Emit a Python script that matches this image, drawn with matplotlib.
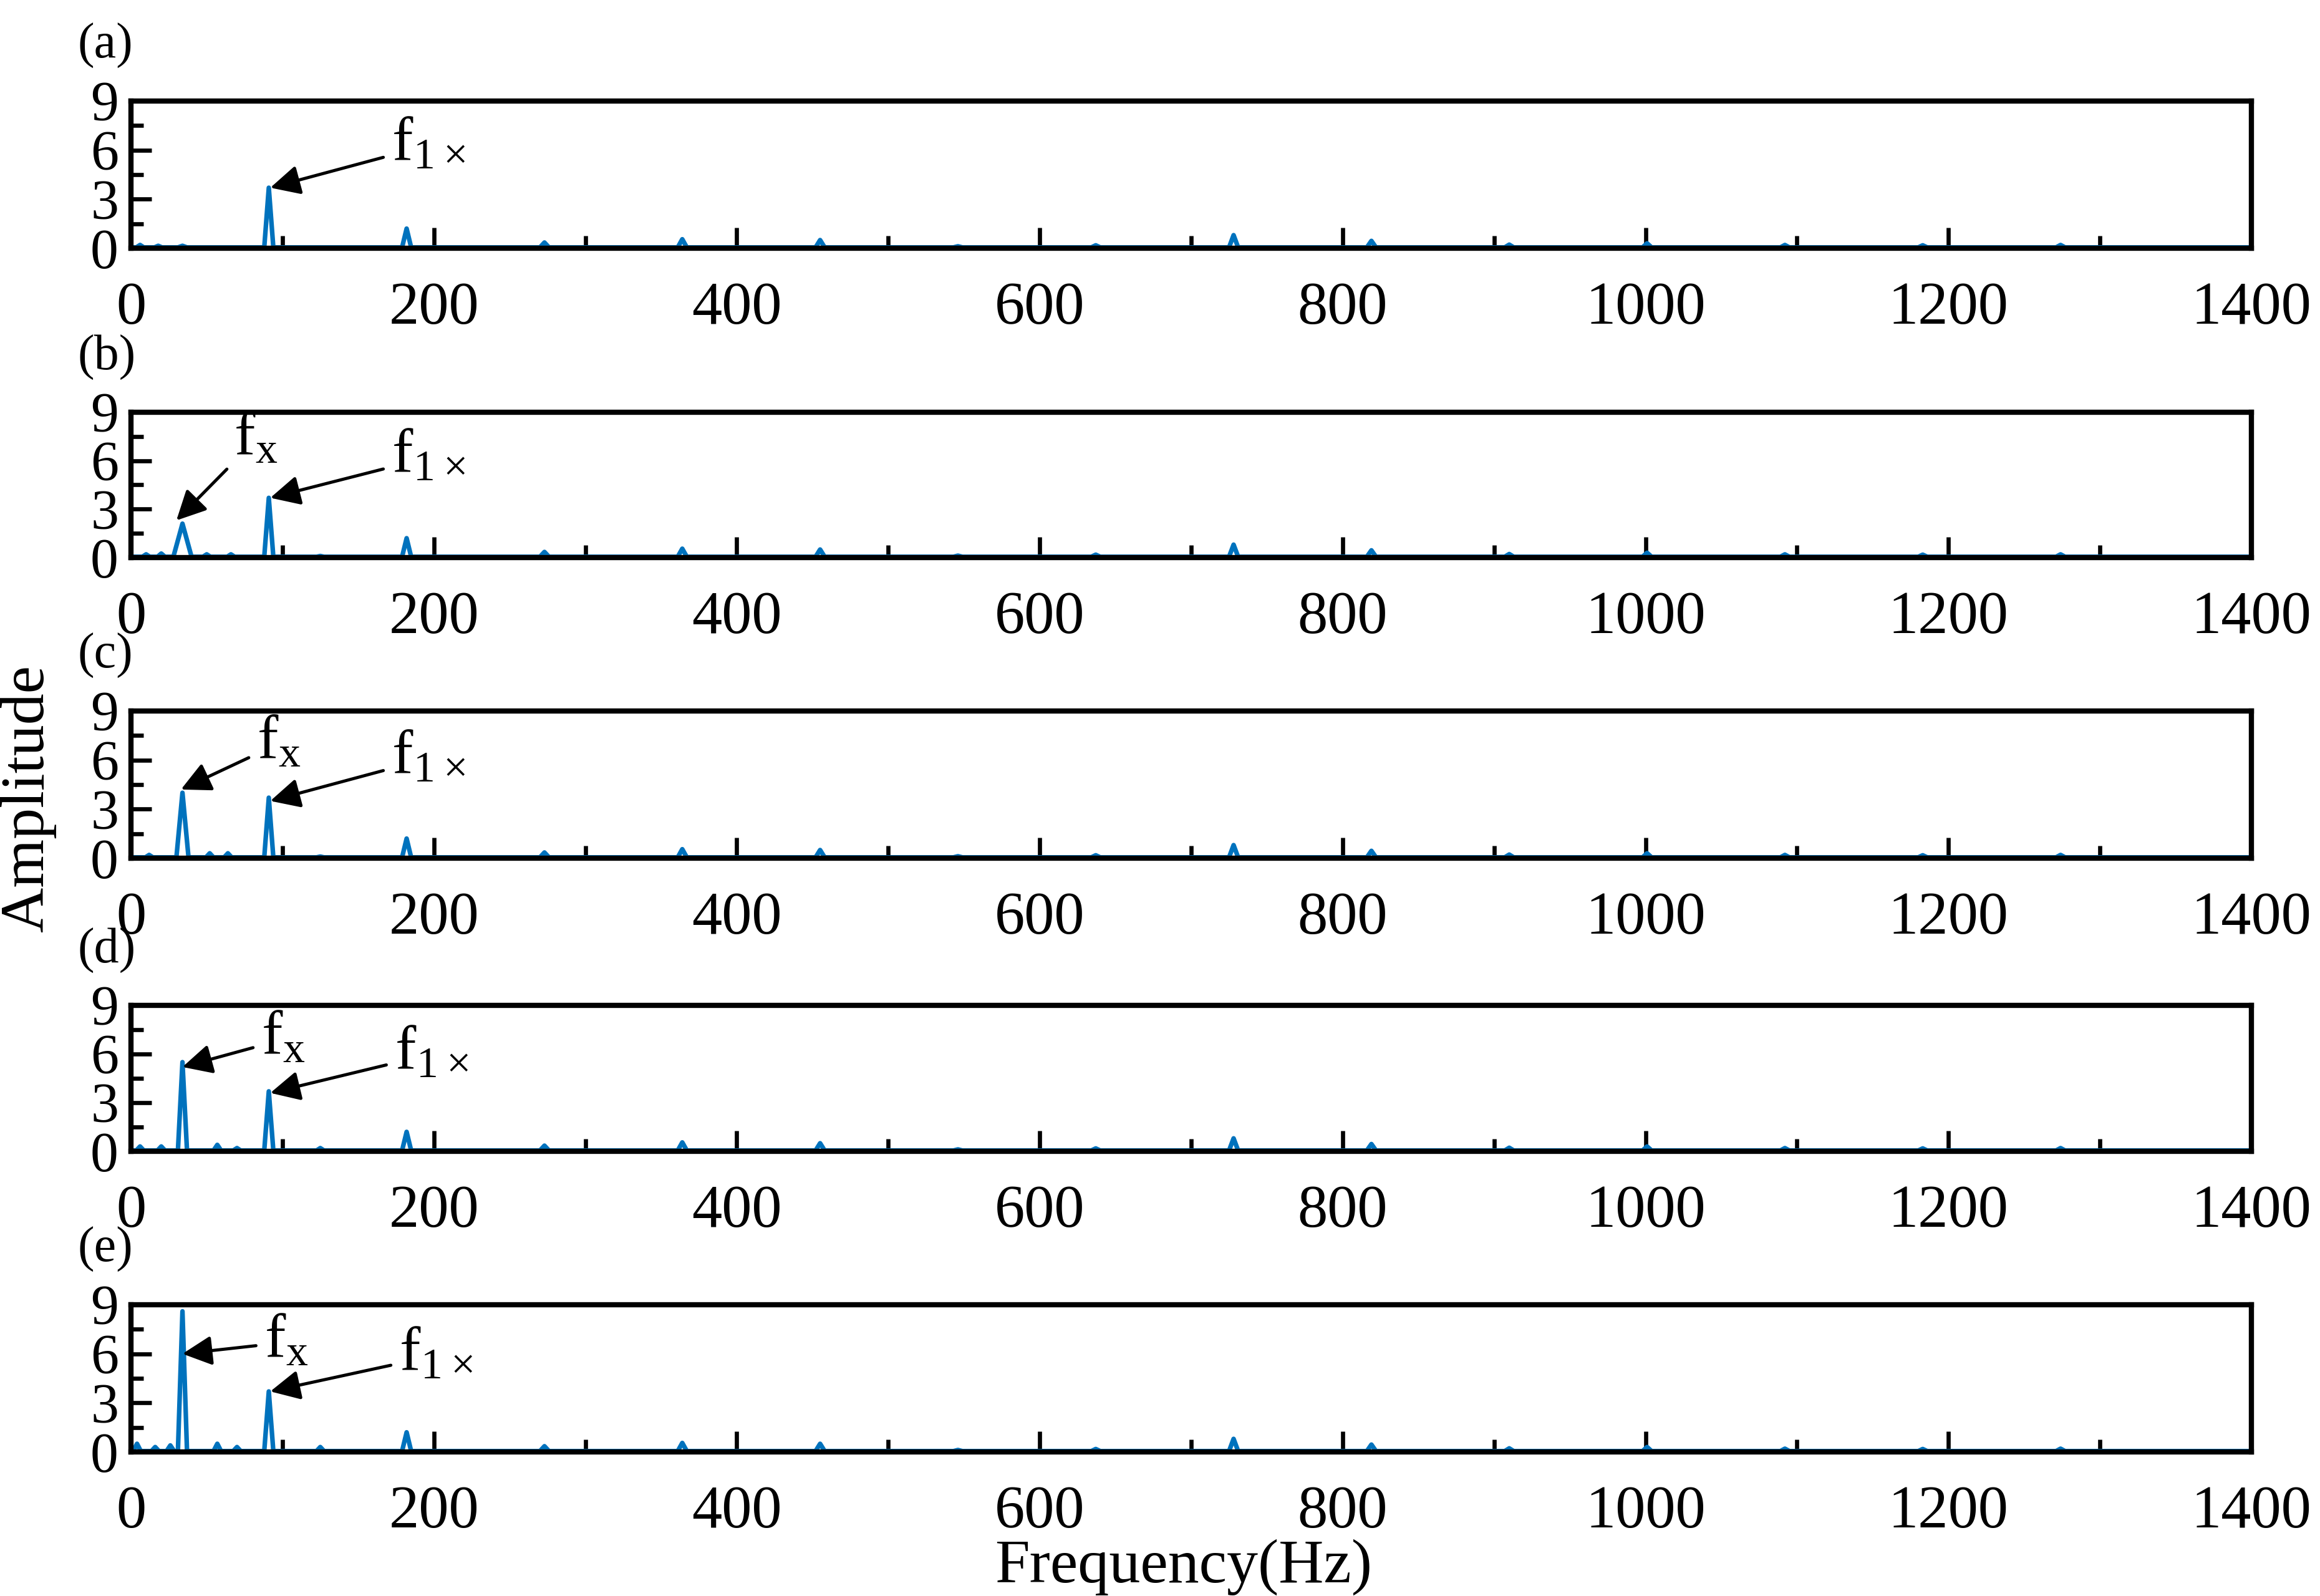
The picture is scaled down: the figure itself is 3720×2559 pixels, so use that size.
import matplotlib
matplotlib.use("Agg")
import matplotlib.pyplot as plt
from matplotlib.ticker import MultipleLocator
import numpy as np

plt.rcParams['font.family'] = ['Liberation Serif', 'DejaVu Serif']
plt.rcParams['mathtext.fontset'] = 'custom'
plt.rcParams['mathtext.rm'] = 'Liberation Serif'

panel_labels = ['(a)', '(b)', '(c)', '(d)', '(e)']
harm_freqs = [91, 182, 273, 364, 455, 546, 637, 728, 819, 910, 1001, 1092, 1183, 1274]
harm_amps = [3.7, 1.2, 0.35, 0.55, 0.5, 0.12, 0.18, 0.8, 0.45, 0.22, 0.3, 0.2, 0.18, 0.2]
fx_freq = 34
fx_amps = [0.15, 2.1, 4.0, 5.5, 8.6]
fx_widths = [3, 6, 4, 3, 3]
extra_peaks = [
    [(6, 0.2), (18, 0.15)],
    [(10, 0.2), (20, 0.25), (50, 0.2), (66, 0.2), (125, 0.1)],
    [(12, 0.2), (52, 0.3), (64, 0.3), (125, 0.1)],
    [(6, 0.3), (20, 0.3), (57, 0.4), (70, 0.2), (125, 0.2)],
    [(4, 0.5), (16, 0.3), (26, 0.4), (57, 0.5), (70, 0.3), (125, 0.3)],
]
fx_text = [None, (68, 7.3), (83, 7.0), (86, 6.9), (88, 6.7)]
fx_head = [None, (30, 2.3), (33, 4.2), (34, 5.2), (34, 6.0)]
f1_text = [(172, 6.3), (172, 6.2), (172, 6.1), (174, 6.0), (177, 5.9)]
f1_head = [(92, 3.7), (92, 3.7), (92, 3.5), (92, 3.6), (92, 3.7)]

fig = plt.figure(figsize=(15.5, 10.6625), dpi=240)
W, H = 3720, 2559
tops = [162, 661, 1140, 1612, 2092]
bots = [398, 894, 1376, 1846, 2328]
left, right = 210, 3610
color = '#0072BD'

for i in range(5):
    ax = fig.add_axes([left / W, 1 - bots[i] / H, (right - left) / W, (bots[i] - tops[i]) / H])
    xs, ys = [0.0], [0.05]
    peaks = [(fx_freq, fx_amps[i], fx_widths[i])] + [(f, a, 2.5) for f, a in extra_peaks[i]] \
        + [(f, a, 3) for f, a in zip(harm_freqs, harm_amps)]
    peaks.sort()
    for f, a, w in peaks:
        xs += [f - w, f, f + w]
        ys += [0.05, a, 0.05]
    xs.append(1400); ys.append(0.05)
    ax.plot(xs, ys, color=color, lw=2.2)
    ax.set_xlim(0, 1400)
    ax.set_ylim(0, 9)
    ax.xaxis.set_major_locator(MultipleLocator(200))
    ax.xaxis.set_minor_locator(MultipleLocator(100))
    ax.yaxis.set_major_locator(MultipleLocator(3))
    ax.yaxis.set_minor_locator(MultipleLocator(1.5))
    ax.tick_params(which='both', direction='in', top=False, right=False, width=2)
    ax.tick_params(axis='x', labelsize=29, pad=16)
    ax.tick_params(axis='y', labelsize=27, pad=6)
    ax.tick_params(which='major', length=10)
    ax.tick_params(which='minor', length=6)
    for s in ax.spines.values():
        s.set_linewidth(2.5)
    ax.text(-0.025, 1.22, panel_labels[i], transform=ax.transAxes, fontsize=24, va='bottom')
    ap = dict(arrowstyle='-|>', color='black', lw=1.5, mutation_scale=30, shrinkA=2, shrinkB=0)
    ax.annotate(r'$\mathregular{f_{1\times}}$', xy=f1_head[i], xytext=f1_text[i],
                fontsize=30, arrowprops=ap, ha='left', va='center')
    if fx_text[i] is not None:
        ax.annotate(r'$\mathregular{f_{x}}$', xy=fx_head[i], xytext=fx_text[i],
                    fontsize=30, arrowprops=ap, ha='left', va='center')

fig.text(0.012, 0.5, 'Amplitude', rotation=90, fontsize=30, va='center', ha='center')
fig.text(0.51, 0.018, 'Frequency(Hz)', fontsize=30, va='center', ha='center')
fig.savefig('out.png', dpi=240)
